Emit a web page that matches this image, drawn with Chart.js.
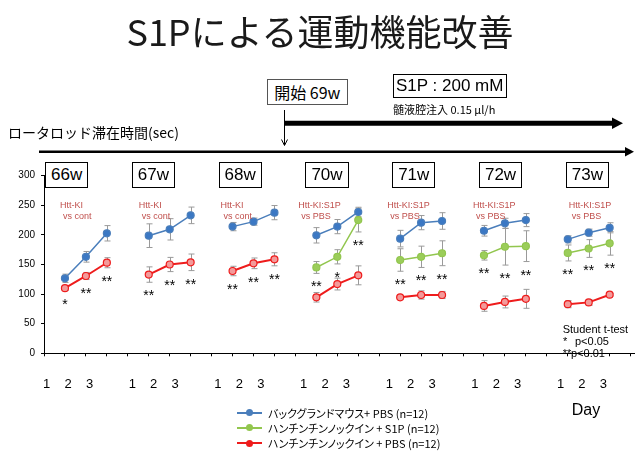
<!DOCTYPE html>
<html><head><meta charset="utf-8">
<script src="https://cdn.jsdelivr.net/npm/chart.js@4"></script>
<style>
html,body{margin:0;padding:0;background:#fff;}
#wrap{position:relative;width:640px;height:460px;overflow:hidden;font-family:"Noto Sans CJK JP",sans-serif;}
canvas{position:absolute;left:0;top:0;}
svg{position:absolute;left:0;top:0;}
.t{position:absolute;white-space:nowrap;color:#000;}
.ar{font-family:"Liberation Sans",Arial,sans-serif;}
.box{position:absolute;box-sizing:border-box;border:1.5px solid #000;text-align:center;background:#fff;}
</style></head><body><div id="wrap">
<canvas id="c" width="640" height="460"></canvas>
<svg width="640" height="460">
  <line x1="39" y1="151.7" x2="627" y2="151.7" stroke="#000" stroke-width="2.5"/>
  <polygon points="625,147 634,151.7 625,156.4" fill="#000"/>
  <line x1="284.3" y1="123.3" x2="614" y2="123.3" stroke="#000" stroke-width="5"/>
  <polygon points="612,117.5 623,123.3 612,129.1" fill="#000"/>
  <line x1="284.5" y1="110" x2="284.5" y2="145" stroke="#000" stroke-width="1"/>
  <polyline points="281.5,139.5 284.5,145.5 287.5,139.5" fill="none" stroke="#000" stroke-width="1"/>
</svg>
<div class="t" style="left:0;width:640px;top:10px;height:40px;line-height:40px;text-align:center;font-size:36px;color:#1a1a1a;">S1Pによる運動機能改善</div>
<div class="box" style="left:266.7px;top:79px;width:81.3px;height:26px;line-height:24px;font-size:16px;border:1px solid #555;">開始&nbsp;69w</div>
<div class="box ar" style="left:392.7px;top:74.3px;width:114px;height:23.4px;line-height:21px;font-size:17px;">S1P : 200 mM</div>
<div class="t" style="left:393px;top:102px;height:14px;line-height:14px;font-size:11px;">髄液腔注入 0.15 μl/h</div>
<div class="t" style="left:8px;top:122px;height:20px;line-height:20px;font-size:14px;">ロータロッド滞在時間(sec)</div>
<div class="t ar" style="left:562.7px;top:322px;height:14px;line-height:14px;font-size:11px;">Student t-test</div>
<div class="t ar" style="left:563px;top:334px;height:14px;line-height:14px;font-size:11px;">*</div>
<div class="t ar" style="left:575px;top:334px;height:14px;line-height:14px;font-size:11px;">p&lt;0.05</div>
<div class="t ar" style="left:562.7px;top:346px;height:14px;line-height:14px;font-size:11px;">**</div>
<div class="t ar" style="left:571px;top:346px;height:14px;line-height:14px;font-size:11px;">p&lt;0.01</div>
<div class="t ar" style="left:571.7px;top:400px;height:20px;line-height:20px;font-size:16px;">Day</div>
<div id="panels"></div>
<div id="legend"></div>
</div>
<script>
// ---- data ----
const weeks = ['66w','67w','68w','70w','71w','72w','73w'];
const dayLabels = ['1','2','3'];
const seriesNames = ['バックグランドマウス+ PBS (n=12)','ハンチンチンノックイン + S1P (n=12)','ハンチンチンノックイン + PBS (n=12)'];
const bgPBS   = [126.7,163,202.7, 198.7,209.4,233, 214,222.4,237.6, 199.3,214,238.7, 193.7,220.7,223.5, 207,219.6,225, 192.5,203.8,212];
const bgPBSErr= [7,9,13, 20,18,14, 7,6,12, 13,12,8, 14,12,14, 9,8.5,11, 6,6,8.5];
const kiS1P   = [null,null,null, null,null,null, null,null,null, 145,163,225, 157.6,163,169, 165.5,180,181, 169.5,177,185.8];
const kiS1PErr= [null,null,null, null,null,null, null,null,null, 10,12,20, 19,18,21, 8,31,26, 13.5,15,20];
const kiPBS   = [110,130.6,153, 133,150,153.7, 139,152,158.8, 94.6,117,131.7, 94.6,98.5,98.5, 80,86.7,92, 83,86,99];
const kiPBSErr= [4,6,8.5, 13,12,14, 8,9,11, 8,10,16, 3,7,6, 9,10,16, 6,5,2];
const sig     = ['*','**','**', '**','**','**', '**','**','**', '**','*','**', '**','**','**', '**','**','**', '**','**','**'];
const notes   = [['Htt-KI','vs cont'],['Htt-KI','vs cont'],['Htt-KI','vs cont'],['Htt-KI:S1P','vs PBS'],['Htt-KI:S1P','vs PBS'],['Htt-KI:S1P','vs PBS'],['Htt-KI:S1P','vs PBS']];
const yTicks  = [0,50,100,150,200,250,300];

// ---- layout / style ----
const colors = ['#4a7ebb','#92c64e','#ee1c1c'];
const fills  = ['#3b78c4','#9bcd5a','#f39a9a'];
const noteDx = [-5,-10,-12,-18,-13,-11,1];
const F = '"Liberation Sans", Arial, sans-serif';
const pos = k => Math.floor(k/3)*4 + (k%3) + 1;

function toPoints(vals){
  const pts=[];
  vals.forEach((v,k)=>{ pts.push({x:pos(k),y:v}); if(k%3===2) pts.push({x:pos(k)+1,y:null}); });
  return pts;
}
const seriesVals=[bgPBS,kiS1P,kiPBS], seriesErr=[bgPBSErr,kiS1PErr,kiPBSErr];

const errPlugin={id:'err',beforeDatasetsDraw(chart){
  const {ctx,scales:{x,y}}=chart; ctx.save(); ctx.strokeStyle='#9a9a9a'; ctx.lineWidth=1;
  seriesVals.forEach((vals,si)=>vals.forEach((v,k)=>{
    if(v==null) return; const e=seriesErr[si][k];
    const px=Math.round(x.getPixelForValue(pos(k)))+0.5, t=y.getPixelForValue(v+e), b=y.getPixelForValue(v-e);
    ctx.beginPath(); ctx.moveTo(px,t); ctx.lineTo(px,b);
    ctx.moveTo(px-3,t); ctx.lineTo(px+3,t); ctx.moveTo(px-3,b); ctx.lineTo(px+3,b); ctx.stroke();
  }));
  ctx.restore();
}};
const notePlugin={id:'notes',afterDatasetsDraw(chart){
  const {ctx,scales:{x,y}}=chart; ctx.save();
  ctx.fillStyle='#c0504d'; ctx.font='9px '+F; ctx.textBaseline='middle'; ctx.textAlign='left';
  notes.forEach((n,i)=>{ const x0=x.getPixelForValue(i*4+1)+noteDx[i]; const y0=y.getPixelForValue(250);
    ctx.fillText(n[0],x0,y0); ctx.fillText(n[1],x0+3,y0+11); });
  ctx.fillStyle='#000'; ctx.font='14px '+F; ctx.textAlign='center'; ctx.textBaseline='alphabetic';
  sig.forEach((s,k)=>{ const p=Math.floor(k/3); const v=p<3?kiPBS[k]:kiS1P[k]; const e=p<3?kiPBSErr[k]:kiS1PErr[k];
    const yc=y.getPixelForValue(v-e)+10; ctx.fillText(s,x.getPixelForValue(pos(k)),yc+8); });
  ctx.restore();
}};

const chart=new Chart(document.getElementById('c'),{
  type:'line',
  data:{datasets:seriesNames.map((n,i)=>({label:n,data:toPoints(seriesVals[i]),borderColor:colors[i],backgroundColor:fills[i],
    pointBackgroundColor:fills[i],pointBorderColor:colors[i],pointBorderWidth:1.2,pointRadius:3.5,borderWidth:i===2?2:1.5,spanGaps:false}))},
  options:{responsive:false,animation:false,devicePixelRatio:1,
    layout:{padding:{top:175.7,left:0,right:0,bottom:0}},
    plugins:{legend:{display:false},tooltip:{enabled:false}},
    scales:{
      x:{type:'linear',position:'bottom',weight:0,min:0,max:28.2,
        border:{color:'#000',width:1},
        grid:{display:true,drawOnChartArea:false,drawTicks:true,tickLength:3,color:'#000'},
        ticks:{stepSize:1,includeBounds:false,autoSkip:false,maxRotation:0,callback:()=>''},
        afterFit:s=>{s.height=4;}},
      x2:{type:'linear',position:'bottom',weight:1,min:0.875,max:28.468,
        border:{display:false},grid:{display:false},
        ticks:{stepSize:1,includeBounds:false,autoSkip:false,maxRotation:0,minRotation:0,padding:11,color:'#000',font:{family:F,size:13},
          callback:v=>(Number.isInteger(v)&&v%4!==0)?dayLabels[(v%4)-1]:''},
        afterFit:s=>{s.height=102.7;}},
      y:{min:0,max:300,border:{color:'#000',width:1},
        grid:{display:true,drawOnChartArea:false,drawTicks:true,tickLength:3,color:'#000'},
        afterBuildTicks:s=>{s.ticks=yTicks.map(v=>({value:v}));},
        ticks:{color:'#000',padding:6,font:{family:F,size:10}},
        afterFit:s=>{s.width=44;}}
    }},
  plugins:[errPlugin,notePlugin]
});

// panel week boxes
const pd=document.getElementById('panels');
weeks.forEach((w,i)=>{const d=document.createElement('div');d.className='box ar';
  d.style.cssText=`left:${45+i*86.78}px;top:161.5px;width:43.3px;height:26px;line-height:23px;font-size:17px;`;d.textContent=w;pd.appendChild(d);});
// legend
const lg=document.getElementById('legend');
const rowY=[412.5,427.5,443];
chart.data.datasets.forEach((ds,i)=>{
  const l=document.createElement('div');
  l.style.cssText=`position:absolute;left:236.7px;top:${rowY[i]-1}px;width:25px;height:2px;background:${colors[i]};`;
  const m=document.createElement('div');
  m.style.cssText=`position:absolute;left:245.5px;top:${rowY[i]-3.5}px;width:7px;height:7px;border-radius:50%;background:${colors[i]};`;
  const t=document.createElement('div');t.className='t';
  t.style.cssText=`left:268px;top:${rowY[i]-7}px;height:14px;line-height:14px;font-size:11px;font-feature-settings:"palt";`;
  t.textContent=ds.label; lg.appendChild(l); lg.appendChild(m); lg.appendChild(t);
});
</script>
</body></html>
